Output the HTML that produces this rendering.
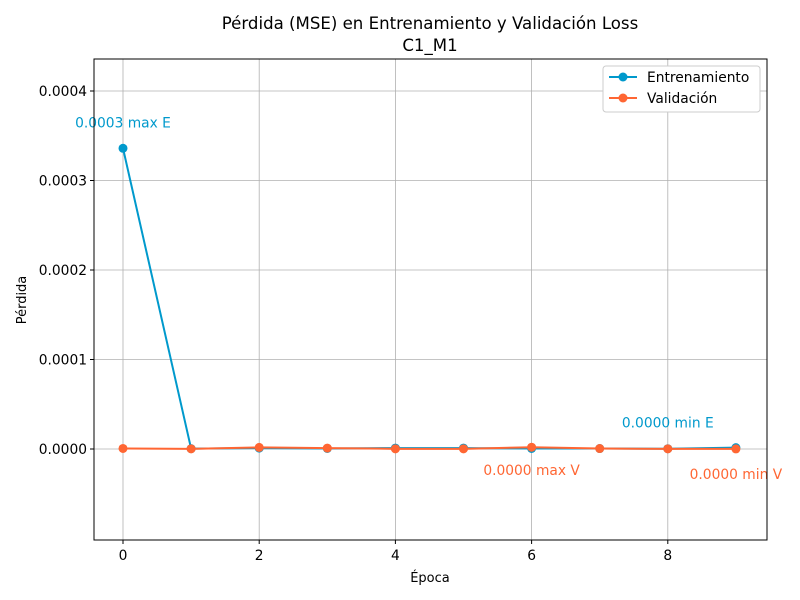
<!DOCTYPE html>
<html><head><meta charset="utf-8"><style>
body{margin:0;background:#fff;}
svg{display:block;font-family:"DejaVu Sans","Liberation Sans",sans-serif;}
</style></head><body>
<svg id="chart" width="800" height="600">
<text x="430" y="29" text-anchor="middle" font-size="16.6">Pérdida (MSE) en Entrenamiento y Validación Loss</text>
<text x="430" y="51" text-anchor="middle" font-size="16.6">C1_M1</text>
<g id="grid"></g><g id="ticks"></g><g id="series"></g>
<rect x="94" y="59" width="673" height="481" fill="none" stroke="#000" stroke-width="1"/>
<text x="430" y="582" text-anchor="middle" font-size="13">Época</text>
<text x="26" y="300" text-anchor="middle" font-size="13" transform="rotate(-90 26 300)">Pérdida</text>
<g>
<rect x="603" y="66" width="157" height="46" fill="#fff" stroke="#ccc" rx="3"/>
<g><line x1="609" y1="77" x2="637" y2="77" stroke="#0099cc" stroke-width="2"/><circle cx="623" cy="77" r="4.5" fill="#0099cc"/><text x="647" y="82" font-size="13.8">Entrenamiento</text></g>
<g><line x1="609" y1="98" x2="637" y2="98" stroke="#ff6633" stroke-width="2"/><circle cx="623" cy="98" r="4.5" fill="#ff6633"/><text x="647" y="103" font-size="13.8">Validación</text></g>
</g>
</svg>
<script>
const epochs=[0,1,2,3,4,5,6,7,8,9];
const trainLoss=[0.000336,0.0000004,0.000001,0.0000006,0.000001,0.000001,0.0000006,0.0000005,0.0000003,0.0000015];
const valLoss=[0.0000006,0.0000002,0.0000018,0.000001,0.0000002,0.0000002,0.000002,0.0000005,0.0000002,0.0000001];
const xTicks=[0,2,4,6,8];
const yTicks=[0,0.0001,0.0002,0.0003,0.0004];
const yTickLabels=["0.0000","0.0001","0.0002","0.0003","0.0004"];
const NS="http://www.w3.org/2000/svg";
const xs=v=>123+v*68.1;
const ys=v=>449-v*895000;
function mk(tag,attrs,parent,text){const e=document.createElementNS(NS,tag);for(const k in attrs)e.setAttribute(k,attrs[k]);if(text!==undefined)e.textContent=text;parent.appendChild(e);return e;}
const grid=document.getElementById('grid'),ticks=document.getElementById('ticks'),ser=document.getElementById('series');
xTicks.forEach(t=>{const x=xs(t);
mk('line',{x1:x,y1:59,x2:x,y2:540,stroke:'#b0b0b0','stroke-width':0.8},grid);
mk('line',{x1:x,y1:540,x2:x,y2:544,stroke:'#000'},ticks);
const l=mk('text',{x:x,y:560,'text-anchor':'middle','font-size':13.8},ticks,String(t));

});
yTicks.forEach((t,i)=>{const y=ys(t);
mk('line',{x1:94,y1:y,x2:767,y2:y,stroke:'#b0b0b0','stroke-width':0.8},grid);
mk('line',{x1:90,y1:y,x2:94,y2:y,stroke:'#000'},ticks);
const l=mk('text',{x:87,y:y+5,'text-anchor':'end','font-size':13.8},ticks,yTickLabels[i]);

});
function draw(data,color,name){
const p=mk('polyline',{points:data.map((v,i)=>xs(epochs[i])+','+ys(v)).join(' '),fill:'none',stroke:color,'stroke-width':2},ser);


data.forEach((v,i)=>{const c=mk('circle',{cx:xs(epochs[i]),cy:ys(v),r:4.5,fill:color},ser);

});}
draw(trainLoss,'#0099cc','train');
draw(valLoss,'#ff6633','val');
function ann(arr,fn,label,color,dy){const v=fn(...arr);const i=arr.indexOf(v);
const t=mk('text',{x:xs(epochs[i]),y:ys(v)+dy,'text-anchor':'middle','font-size':13.8,fill:color},ser,v.toFixed(4)+' '+label);

}
ann(trainLoss,Math.max,'max E','#0099cc',-21);
ann(trainLoss,Math.min,'min E','#0099cc',-21);
ann(valLoss,Math.max,'max V','#ff6633',28);
ann(valLoss,Math.min,'min V','#ff6633',30);
</script>
</body></html>
